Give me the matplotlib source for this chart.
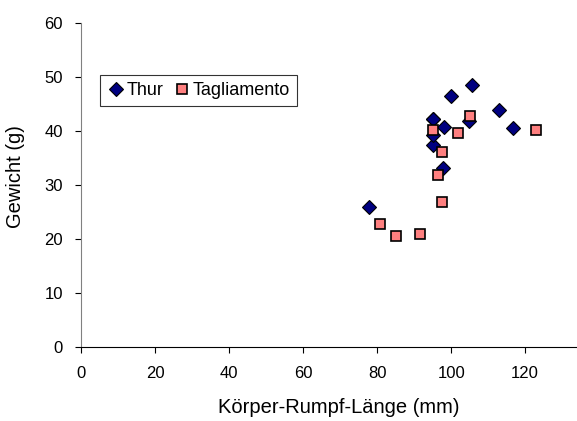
import matplotlib.pyplot as plt

plt.rcParams['font.family'] = ['Liberation Sans', 'DejaVu Sans']

# Thur
thur_x = [77.8, 95.2, 95.1, 95.2, 95.1, 97.9, 98.0, 100.0, 104.7, 105.7, 113.0, 116.8]
thur_y = [25.9, 37.4, 39.3, 42.2, 42.2, 33.1, 40.7, 46.4, 41.9, 48.6, 43.9, 40.6]

# Tagliamento
tag_x = [80.7, 85.0, 91.7, 95.0, 96.5, 97.6, 97.6, 101.8, 105.0, 122.9]
tag_y = [22.8, 20.6, 21.0, 40.1, 31.8, 26.8, 36.2, 39.7, 42.7, 40.1]

fig = plt.figure(figsize=(5.77, 4.21), dpi=100)
ax = fig.add_axes([81/577, 1-347/421, 1-81/577, (347-23)/421])

ax.plot(thur_x, thur_y, 'D', color='#000080', mec='black', mew=0.8, ms=7, label='Thur')
ax.plot(tag_x, tag_y, 's', color='#FF8080', mec='black', mew=1.2, ms=7, label='Tagliamento')

ax.set_xlim(0, 134)
ax.set_ylim(0, 60)
ax.set_xticks(list(range(0, 121, 20)))
ax.set_yticks(list(range(0, 61, 10)))
ax.tick_params(labelsize=12, direction='out', length=4, width=0.8, colors='black')
ax.tick_params(axis='x', pad=10)
ax.tick_params(axis='y', pad=9)
ax.spines['right'].set_visible(False)
ax.spines['top'].set_visible(False)
ax.spines['left'].set_color('#808080')
ax.spines['bottom'].set_color('black')
ax.spines['left'].set_linewidth(0.8)
ax.spines['bottom'].set_linewidth(0.8)

ax.set_xlabel('Körper-Rumpf-Länge (mm)', fontsize=14.5)
ax.set_ylabel('Gewicht (g)', fontsize=14.5)
ax.xaxis.set_label_coords(0.52, -0.157)
ax.yaxis.set_label_coords(-0.113, 0.525)

leg = ax.legend(ncol=2, loc='upper left', bbox_to_anchor=((100-81)/496, (347-75)/324),
                frameon=True, fancybox=False, fontsize=13, handletextpad=0.1,
                columnspacing=0.5, borderpad=0.4, handlelength=1.0, borderaxespad=0)
leg.get_frame().set_edgecolor('black')
leg.get_frame().set_linewidth(0.8)

fig.savefig('out.png', dpi=100)
